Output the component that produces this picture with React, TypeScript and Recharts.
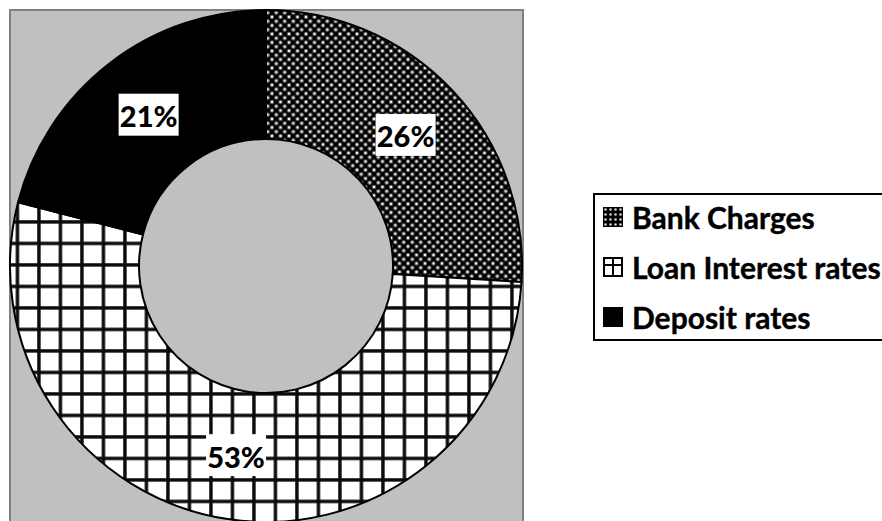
import { Cell, Legend, Pie, PieChart } from 'recharts'

const categories = ['Bank Charges', 'Loan Interest rates', 'Deposit rates']
const shares = [26, 53, 21]
const fills = ['url(#bankPattern)', 'url(#gridPattern)', '#000000']

const data = categories.map((name, i) => ({ name, value: shares[i] }))

const RADIAN = Math.PI / 180
const FONT = 'Lato, "Open Sans", sans-serif'

function SliceLabel(props: any) {
  const { cx, cy, midAngle, innerRadius, outerRadius, value } = props
  const r = (innerRadius + outerRadius) / 2
  const x = cx + r * Math.cos(-midAngle * RADIAN)
  const y = cy + r * Math.sin(-midAngle * RADIAN)
  return (
    <g>
      <rect x={x - 30} y={y - 21} width={60} height={42} fill="#ffffff" />
      <text
        x={x}
        y={y + 1}
        textAnchor="middle"
        dominantBaseline="central"
        fontFamily={FONT}
        fontWeight={900}
        fontSize={29}
        fill="#000000"
      >
        {value}%
      </text>
    </g>
  )
}

function Swatch({ index }: { index: number }) {
  if (index === 0) {
    return (
      <svg width={20} height={20}>
        <rect x={0.5} y={0.5} width={19} height={19} fill="url(#bankSwatch)" stroke="#000" />
      </svg>
    )
  }
  if (index === 1) {
    return (
      <svg width={20} height={20}>
        <rect x={1} y={1} width={18} height={18} fill="#fff" stroke="#000" strokeWidth={2} />
        <line x1={10} y1={1} x2={10} y2={19} stroke="#000" strokeWidth={2} />
        <line x1={1} y1={8} x2={19} y2={8} stroke="#000" strokeWidth={2} />
      </svg>
    )
  }
  return (
    <svg width={20} height={20}>
      <rect x={0} y={0} width={20} height={20} fill="#000" />
    </svg>
  )
}

function LegendBox() {
  return (
    <div
      style={{
        boxSizing: 'border-box',
        width: 300,
        height: 148,
        border: '2px solid #000',
        background: '#ffffff',
      }}
    >
      {categories.map((name, i) => (
        <div
          key={name}
          style={{
            display: 'flex',
            alignItems: 'center',
            height: 44,
            marginBottom: 6,
            paddingLeft: 8,
          }}
        >
          <Swatch index={i} />
          <span
            style={{
              marginLeft: 9,
              fontFamily: FONT,
              fontWeight: 700,
              fontSize: 30,
              lineHeight: '44px',
              color: '#000',
              whiteSpace: 'nowrap',
              WebkitTextStroke: '0.4px #000',
            }}
          >
            {name}
          </span>
        </div>
      ))}
    </div>
  )
}

export default function App() {
  return (
    <div
      style={{
        position: 'absolute',
        left: 0,
        top: 0,
        width: 882,
        height: 521,
        overflow: 'hidden',
        background: '#ffffff',
      }}
    >
      <svg width={0} height={0} style={{ position: 'absolute' }}>
        <defs>
          <pattern id="gridPattern" patternUnits="userSpaceOnUse" x={15.5} y={5} width={21.5} height={21.5}>
            <rect x={0} y={0} width={21.5} height={21.5} fill="#ffffff" />
            <rect x={-0.5} y={0} width={4} height={21.5} fill="#777777" />
            <rect x={0} y={-0.5} width={21.5} height={4} fill="#777777" />
            <rect x={0.5} y={0} width={3} height={21.5} fill="#0a0a0a" />
            <rect x={0} y={0.5} width={21.5} height={3} fill="#0a0a0a" />
          </pattern>
          <pattern id="bankPattern" patternUnits="userSpaceOnUse" x={0} y={0} width={8.5} height={8.5}>
            <rect x={0} y={0} width={8.5} height={8.5} fill="#000000" />
            {[
              [0, 0],
              [8.5, 0],
              [0, 8.5],
              [8.5, 8.5],
              [4.25, 4.25],
            ].map(([px, py], i) => (
              <g key={i}>
                <circle cx={px} cy={py} r={2.2} fill="#666666" />
                <circle cx={px} cy={py} r={1.1} fill="#ffffff" />
              </g>
            ))}
          </pattern>
          <pattern id="bankSwatch" patternUnits="userSpaceOnUse" x={0} y={0} width={5} height={5}>
            <rect x={0} y={0} width={5} height={5} fill="#000000" />
            <circle cx={2.5} cy={2.5} r={1.3} fill="#cfcfcf" />
          </pattern>
        </defs>
      </svg>
      <div
        style={{
          position: 'absolute',
          left: 9,
          top: 9,
          width: 515,
          height: 530,
          boxSizing: 'border-box',
          background: '#c0c0c0',
          border: '2px solid #808080',
        }}
      />
      <div style={{ position: 'absolute', left: 0, top: 0 }}>
        <PieChart width={882} height={521} margin={{ top: 0, right: 0, bottom: 0, left: 0 }}>
          <Pie
            data={data}
            dataKey="value"
            nameKey="name"
            cx={266}
            cy={266}
            innerRadius={127}
            outerRadius={256}
            startAngle={90}
            endAngle={-270}
            stroke="#000000"
            strokeWidth={2}
            label={SliceLabel}
            labelLine={false}
            isAnimationActive={false}
          >
            {data.map((d, i) => (
              <Cell key={d.name} fill={fills[i]} />
            ))}
          </Pie>
          <Legend
            content={() => <LegendBox />}
            wrapperStyle={{ position: 'absolute', left: 593, top: 193, width: 300, height: 148 }}
          />
        </PieChart>
      </div>
    </div>
  )
}
